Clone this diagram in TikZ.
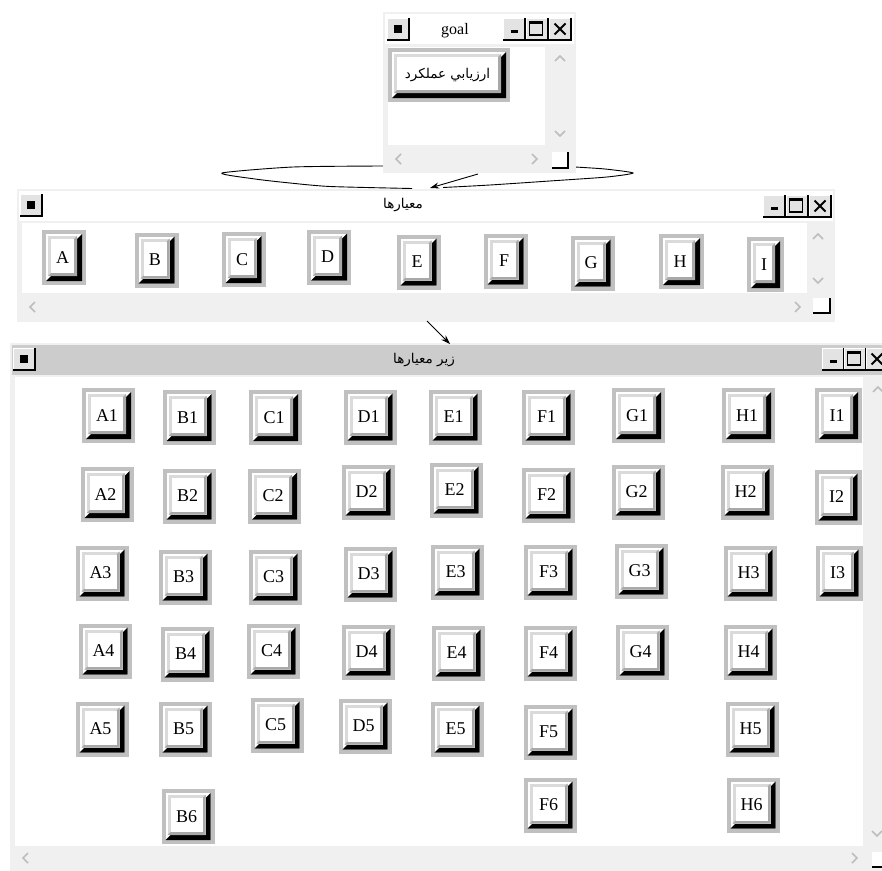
\documentclass[tikz,border=0pt]{standalone}
\usepackage{fontspec}
\setmainfont{Liberation Serif}
\newfontfamily\arabicfont[Script=Arabic]{DejaVu Sans}
\TeXXeTstate=1
\usetikzlibrary{arrows.meta}
\definecolor{winbg}{HTML}{F0F0F0}
\definecolor{bgray}{HTML}{C0C0C0}
\definecolor{lgray}{HTML}{DADADA}
\definecolor{mgray}{HTML}{A8A8A8}
\definecolor{chface}{HTML}{E3E3E3}
\definecolor{titlegray}{HTML}{CCCCCC}
\definecolor{chevgray}{HTML}{BDBDBD}

\tikzset{
  btntext/.style={inner sep=0pt, font=\fontsize{18}{18}\selectfont},
  winframe/.style={rectangle, fill=winbg, draw=none, inner sep=0pt, anchor=north west},
  wintitle/.style={inner sep=0pt, font=\fontsize{16}{16}\selectfont},
  artitle/.style={inner sep=0pt, font=\arabicfont\fontsize{13.5}{13.5}\selectfont},
  chev/.style={chevgray, line width=1.6pt},
  conn/.style={-{Stealth[length=9pt,width=6pt]}, line width=0.9pt},
  lens/.style={black, line width=0.9pt}
}

% button: name, cx, cy, w, h, text
\newcommand\mybtn[6]{%
  \pgfmathsetmacro\bxa{#2-#4/2}%
  \pgfmathsetmacro\bxb{#2+#4/2}%
  \pgfmathsetmacro\bya{#3-#5/2}%
  \pgfmathsetmacro\byb{#3+#5/2}%
  \fill[bgray] (\bxa,\bya) rectangle (\bxb,\byb);
  \fill[white] (\bxa+4,\bya+4) rectangle (\bxb-4,\byb-4);
  \fill[black] (\bxa+4,\byb-4) -- (\bxb-4,\byb-4) -- (\bxb-4,\bya+4) -- (\bxb-9,\bya+9) -- (\bxb-9,\byb-9) -- (\bxa+9,\byb-9) -- cycle;
  \fill[lgray] (\bxa+6,\bya+6) rectangle (\bxb-9,\byb-9);
  \fill[mgray] (\bxa+6,\byb-9) -- (\bxb-9,\byb-9) -- (\bxb-9,\bya+6) -- (\bxb-12,\bya+9) -- (\bxb-12,\byb-12) -- (\bxa+9,\byb-12) -- cycle;
  \fill[white] (\bxa+9,\bya+9) rectangle (\bxb-12,\byb-12);
  \node[btntext] (#1) at ({#2-1.5},{#3}) {#6};
}
\newcommand\chbox[2]{%
  \fill[chface] (#1,#2) rectangle (#1+22,#2+22);
  \draw[white,line width=1pt] (#1+0.5,#2+21.5) -- (#1+0.5,#2+0.5) -- (#1+21.5,#2+0.5);
  \draw[black,line width=1.2pt] (#1,#2+22) -- (#1+22,#2+22) -- (#1+22,#2);
}
\newcommand\sysglyph[2]{\fill[black] (#1+7,#2+7) rectangle (#1+15,#2+15);}
\newcommand\minglyph[2]{\fill[black] (#1+8,#2+12) rectangle (#1+15,#2+15);}
\newcommand\maxglyph[2]{\draw[black,line width=1.3pt] (#1+3.5,#2+4) rectangle (#1+16.5,#2+17);
  \draw[black,line width=1.3pt] (#1+3.5,#2+5) -- (#1+16.5,#2+5);}
\newcommand\closeglyph[2]{\draw[black,line width=1.8pt] (#1+5.5,#2+5.5) -- (#1+16.5,#2+16.5) (#1+16.5,#2+5.5) -- (#1+5.5,#2+16.5);}
\newcommand\chevup[2]{\draw[chev] (#1-5,#2+3) -- (#1,#2-2) -- (#1+5,#2+3);}
\newcommand\chevdown[2]{\draw[chev] (#1-5,#2-3) -- (#1,#2+2) -- (#1+5,#2-3);}
\newcommand\chevleft[2]{\draw[chev] (#1+3,#2-5) -- (#1-2,#2) -- (#1+3,#2+5);}
\newcommand\chevright[2]{\draw[chev] (#1-3,#2-5) -- (#1+2,#2) -- (#1-3,#2+5);}
\newcommand\grip[4]{\fill[white] (#1,#2) rectangle (#3,#4);
  \draw[black,line width=1.3pt] (#1,#4) -- (#3,#4) -- (#3,#2);}

\begin{document}
\begin{tikzpicture}[x=1pt,y=-1pt]
\useasboundingbox (0,0) rectangle (882,870);
\clip (0,0) rectangle (882,870);
\fill[white] (0,0) rectangle (882,870);

% ---------- bottom window ----------
\node[winframe, minimum width=890, minimum height=540] (subwin) at (10,343) {};
\fill[titlegray] (12,345) rectangle (900,375);
\chbox{13}{348}\sysglyph{13}{348}
\node[artitle] (subtitle) at (424,360) {\beginR زير معيارها\endR};
\chbox{822}{348}\minglyph{822}{348}
\chbox{844}{348}\maxglyph{844}{348}
\chbox{866}{348}\closeglyph{866}{348}
\fill[white] (15,377) rectangle (863,846);
\chevup{878}{389}
\chevdown{877}{834}
\chevleft{25}{858}
\chevright{855}{858}
\grip{872}{852}{888}{867}

\mybtn{A1}{108.5}{415.5}{53}{55}{A1}
\mybtn{B1}{189}{417.5}{53}{55}{B1}
\mybtn{C1}{275.5}{417.5}{53}{55}{C1}
\mybtn{D1}{370}{417}{53}{55}{D1}
\mybtn{E1}{455}{417}{53}{55}{E1}
\mybtn{F1}{548}{417}{53}{55}{F1}
\mybtn{G1}{638.5}{415.5}{53}{55}{G1}
\mybtn{H1}{748.5}{415.5}{53}{55}{H1}
\mybtn{I1}{838.5}{415.5}{47}{55}{I1}

\mybtn{A2}{107}{494.5}{53}{55}{A2}
\mybtn{B2}{189}{496}{53}{55}{B2}
\mybtn{C2}{274.5}{496}{53}{55}{C2}
\mybtn{D2}{368}{492}{53}{55}{D2}
\mybtn{E2}{456}{490}{53}{55}{E2}
\mybtn{F2}{548}{495}{53}{55}{F2}
\mybtn{G2}{638}{492}{53}{55}{G2}
\mybtn{H2}{747}{492}{53}{55}{H2}
\mybtn{I2}{838}{497}{47}{55}{I2}

\mybtn{A3}{102}{573}{53}{55}{A3}
\mybtn{B3}{185}{577}{53}{55}{B3}
\mybtn{C3}{275}{577}{53}{55}{C3}
\mybtn{D3}{370}{574}{53}{55}{D3}
\mybtn{E3}{457}{572}{53}{55}{E3}
\mybtn{F3}{550}{572}{53}{55}{F3}
\mybtn{G3}{641}{571}{53}{55}{G3}
\mybtn{H3}{750}{573}{53}{55}{H3}
\mybtn{I3}{839}{573}{47}{55}{I3}

\mybtn{A4}{105}{651}{53}{55}{A4}
\mybtn{B4}{187}{654}{53}{55}{B4}
\mybtn{C4}{273}{651}{53}{55}{C4}
\mybtn{D4}{368}{652}{53}{55}{D4}
\mybtn{E4}{458}{653}{53}{55}{E4}
\mybtn{F4}{550}{653}{53}{55}{F4}
\mybtn{G4}{642}{652}{53}{55}{G4}
\mybtn{H4}{750}{652}{53}{55}{H4}

\mybtn{A5}{102}{729}{53}{55}{A5}
\mybtn{B5}{185}{729}{53}{55}{B5}
\mybtn{C5}{277}{725}{53}{55}{C5}
\mybtn{D5}{365}{726}{53}{55}{D5}
\mybtn{E5}{457}{729}{53}{55}{E5}
\mybtn{F5}{550}{732}{53}{55}{F5}
\mybtn{H5}{752}{729}{53}{55}{H5}

\mybtn{B6}{188}{816.5}{53}{55}{B6}
\mybtn{F6}{550}{805}{53}{55}{F6}
\mybtn{H6}{753}{805}{53}{55}{H6}

% ---------- middle window ----------
\node[winframe, minimum width=818, minimum height=133] (critwin) at (17,189) {};
\fill[white] (19,191) rectangle (833,221);
\chbox{20}{194}\sysglyph{20}{194}
\node[artitle] (crittitle) at (403,205) {\beginR معيارها\endR};
\chbox{763}{195}\minglyph{763}{195}
\chbox{786}{195}\maxglyph{786}{195}
\chbox{809}{195}\closeglyph{809}{195}
\fill[white] (22,223) rectangle (807,293);
\chevup{818}{236}
\chevdown{818}{281}
\chevleft{32}{307}
\chevright{798}{307}
\grip{813}{298}{830}{313}

\mybtn{A}{64}{257.5}{44}{55}{A}
\mybtn{B}{156.5}{260}{44}{55}{B}
\mybtn{C}{243.5}{259.5}{44}{55}{C}
\mybtn{D}{329}{257}{44}{55}{D}
\mybtn{E}{418.5}{262}{44}{55}{E}
\mybtn{F}{505.5}{261}{44}{55}{F}
\mybtn{G}{592.5}{263}{44}{55}{G}
\mybtn{H}{681.5}{261.5}{45}{55}{H}
\mybtn{I}{765.5}{264.5}{37}{55}{I}

% ---------- lens shape ----------
\draw[lens] plot[smooth, tension=0.4] coordinates {(384,166) (293,167) (222,173) (255,179) (290,183) (330,186.5) (412,188.5)};
\draw[lens] plot[smooth, tension=0.4] coordinates {(575,167) (605,169) (633,173) (607,177) (557,180.5) (490,185) (443,187.5)};

% ---------- goal window ----------
\node[winframe, minimum width=193, minimum height=161] (goalwin) at (383,12) {};
\fill[white] (385,14) rectangle (574,44);
\chbox{387}{18}\sysglyph{387}{18}
\node[wintitle] (goaltitle) at (455,31) {goal};
\chbox{503}{18}\minglyph{503}{18}
\chbox{526}{18}\maxglyph{526}{18}
\chbox{549}{18}\closeglyph{549}{18}
\fill[white] (388,47) rectangle (545,145);
\chevup{560}{58}
\chevdown{560}{134}
\chevleft{398}{159}
\chevright{535}{159}
\grip{552}{152}{568}{168}
\mybtn{goalbtn}{449}{75}{122}{54}{\arabicfont\fontsize{13.5}{13.5}\selectfont\beginR ارزيابي عملكرد\endR}

% ---------- connectors ----------
\coordinate (a1s) at (478,174);
\coordinate (a1e) at (430,188);
\draw[conn] (a1s) -- (a1e);
\coordinate (a2s) at (427,321);
\coordinate (a2e) at (450,344);
\draw[conn] (a2s) -- (a2e);
\end{tikzpicture}
\end{document}
